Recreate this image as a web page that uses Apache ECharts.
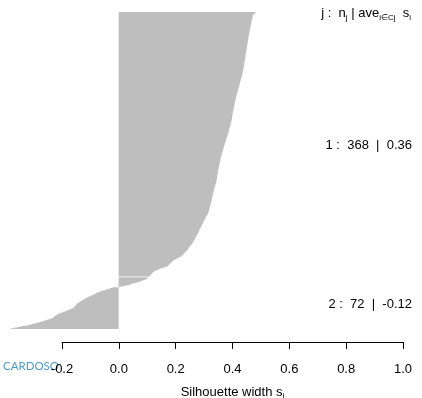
<!DOCTYPE html>
<html>
<head>
<meta charset="utf-8">
<script src="https://cdn.jsdelivr.net/npm/echarts@6/dist/echarts.min.js"></script>
<style>
  html, body { margin: 0; padding: 0; background: #fff; }
  #chart { width: 422px; height: 398px; }
</style>
</head>
<body>
<div id="chart"></div>
<script>
// silhouette widths, sorted within each cluster
const cluster1 = [
  0.483, 0.480, 0.477, 0.474,
  0.473, 0.472, 0.472, 0.471, 0.470, 0.470, 0.469, 0.469, 0.468, 0.468, 0.467, 0.467, 0.466, 0.466,
  0.465, 0.465, 0.464, 0.464, 0.463, 0.463, 0.462, 0.462, 0.461, 0.461, 0.460, 0.460, 0.459, 0.459, 0.458, 0.458, 0.457, 0.457,
  0.456, 0.456, 0.456, 0.455, 0.455, 0.454, 0.454, 0.454, 0.453, 0.453, 0.452, 0.452, 0.452, 0.451, 0.451, 0.450, 0.450, 0.450, 0.449, 0.449, 0.448, 0.448, 0.448, 0.447,
  0.447, 0.447, 0.446, 0.446, 0.445, 0.445, 0.445, 0.444, 0.444, 0.443, 0.443, 0.442, 0.442, 0.442, 0.441, 0.441, 0.440, 0.440, 0.439, 0.439, 0.438, 0.438, 0.437,
  0.437, 0.436, 0.436, 0.435, 0.434, 0.434, 0.433, 0.432, 0.432, 0.431, 0.430, 0.430, 0.429, 0.428, 0.428, 0.427, 0.426, 0.426, 0.425, 0.424, 0.424, 0.423, 0.422, 0.421, 0.421,
  0.420, 0.419, 0.419, 0.418, 0.417, 0.417, 0.416, 0.415, 0.415, 0.414, 0.413, 0.413, 0.412, 0.411, 0.411, 0.410, 0.410, 0.409, 0.409, 0.408, 0.408, 0.407, 0.407, 0.406,
  0.406, 0.405, 0.405, 0.404, 0.404, 0.403, 0.403, 0.402, 0.402, 0.401, 0.401, 0.400, 0.400, 0.400, 0.399, 0.399, 0.398, 0.398,
  0.398, 0.397, 0.396, 0.396, 0.395, 0.394, 0.394, 0.393, 0.392, 0.392, 0.391, 0.390, 0.390, 0.389, 0.388, 0.388, 0.387, 0.386,
  0.386, 0.385, 0.384, 0.383, 0.382, 0.382, 0.381, 0.380, 0.379, 0.378, 0.378, 0.377, 0.376, 0.375, 0.374, 0.374, 0.373, 0.372, 0.371, 0.370,
  0.370, 0.369, 0.368, 0.368, 0.367, 0.366, 0.365, 0.365, 0.364, 0.363, 0.362, 0.362, 0.361, 0.360,
  0.360, 0.359, 0.359, 0.358, 0.358, 0.357, 0.357, 0.356, 0.355, 0.355, 0.354, 0.354, 0.353, 0.353, 0.352, 0.352, 0.351, 0.351,
  0.350, 0.350, 0.349, 0.349, 0.349, 0.348, 0.348, 0.347, 0.347, 0.347, 0.346, 0.346, 0.345, 0.345,
  0.345, 0.344, 0.343, 0.343, 0.342, 0.341, 0.340, 0.340, 0.339, 0.338, 0.337,
  0.336, 0.336, 0.335, 0.335, 0.334, 0.334, 0.333, 0.332, 0.332, 0.331, 0.331, 0.330, 0.330, 0.329, 0.328, 0.328, 0.327, 0.327, 0.326, 0.326,
  0.325, 0.324, 0.324, 0.323, 0.322, 0.322, 0.321, 0.320, 0.320, 0.319, 0.318, 0.317, 0.317, 0.316,
  0.315, 0.314, 0.312, 0.311, 0.310, 0.308, 0.307, 0.306, 0.305, 0.303, 0.302, 0.300, 0.299, 0.298,
  0.297, 0.296, 0.294, 0.293, 0.292, 0.290, 0.289, 0.288, 0.286, 0.285, 0.284, 0.283, 0.282, 0.281,
  0.280, 0.279, 0.277, 0.276, 0.274, 0.273, 0.271, 0.270, 0.268, 0.267, 0.266, 0.264, 0.263,
  0.262, 0.260, 0.258, 0.256, 0.254, 0.252, 0.250, 0.248, 0.246,
  0.245, 0.243, 0.241, 0.238, 0.236, 0.234, 0.231, 0.229, 0.227, 0.224,
  0.222, 0.218, 0.213, 0.208, 0.203, 0.198, 0.193,
  0.190, 0.188, 0.185, 0.183, 0.180, 0.178, 0.175,
  0.174, 0.165, 0.158, 0.150,
  0.145, 0.139, 0.133, 0.127, 0.122,
  0.120, 0.118, 0.116, 0.114, 0.112, 0.110
];
const cluster2 = [
  0.103, 0.101, 0.098, 0.092, 0.086, 0.078, 0.072, 0.063, 0.052, 0.045, 0.038, 0.028, 0.017, 0.006,
  -0.022, -0.030, -0.038, -0.047,
  -0.056, -0.062, -0.068, -0.074, -0.080,
  -0.085, -0.090, -0.096, -0.102, -0.107,
  -0.111, -0.116, -0.121, -0.126,
  -0.130, -0.134, -0.138, -0.142, -0.145,
  -0.148, -0.150, -0.152, -0.155, -0.157,
  -0.159, -0.164, -0.170, -0.176, -0.182,
  -0.188, -0.196, -0.203, -0.210,
  -0.215, -0.218, -0.222, -0.226, -0.229,
  -0.232, -0.239, -0.246, -0.253, -0.260,
  -0.267, -0.277, -0.287, -0.297,
  -0.307, -0.318, -0.330, -0.342,
  -0.355, -0.367, -0.380
];
const clusterLabels = ['1 :  368  |  0.36', '2 :  72  |  -0.12'];
const xTicks = [-0.2, 0.0, 0.2, 0.4, 0.6, 0.8, 1.0];

// one empty slot between the clusters, like barplot's space
const values = [...cluster1, null, ...cluster2];
const obs = values.map((_, i) => i + 1);

const font = 'Liberation Sans, Arial, sans-serif';
const chart = echarts.init(document.getElementById('chart'));

chart.setOption({
  animation: false,
  backgroundColor: '#fff',
  grid: [
    { left: 5, right: 5, top: 12, bottom: 69, outerBoundsMode: 'none' },
    { left: 62, right: 19, top: 300, bottom: 56, outerBoundsMode: 'none' }
  ],
  xAxis: [
    { gridIndex: 0, type: 'value', min: -0.4, max: 1.05, show: false },
    {
      gridIndex: 1,
      type: 'value',
      min: xTicks[0],
      max: xTicks[xTicks.length - 1],
      interval: 0.2,
      axisLine: { show: true, lineStyle: { color: '#000', width: 1 } },
      axisTick: { show: true, length: 7, lineStyle: { color: '#000' } },
      splitLine: { show: false },
      axisLabel: {
        margin: 21,
        color: '#000',
        fontSize: 13,
        fontFamily: font,
        formatter: v => v.toFixed(1)
      },
      name: '{a|Silhouette width s}{b|i}',
      nameLocation: 'middle',
      nameGap: 42,
      nameTextStyle: {
        rich: {
          a: { fontSize: 13, fontFamily: font, color: '#000', lineHeight: 16, verticalAlign: 'middle' },
          b: { fontSize: 8, fontFamily: font, color: '#000', lineHeight: 16, verticalAlign: 'bottom' }
        }
      }
    }
  ],
  yAxis: [
    { gridIndex: 0, type: 'category', data: obs, inverse: true, show: false },
    { gridIndex: 1, type: 'value', min: 0, max: 1, show: false }
  ],
  series: [
    {
      type: 'bar',
      xAxisIndex: 0,
      yAxisIndex: 0,
      data: values,
      barWidth: '100%',
      barCategoryGap: '0%',
      large: true,
      largeThreshold: 50,
      itemStyle: { color: '#bebebe' },
      silent: true
    }
  ],
  graphic: [
    {
      type: 'text',
      right: 11,
      top: 7,
      style: {
        text: '{a|j :  n}{b|j}{a| | ave}{b|i∈Cj}{a|  s}{b|i}',
        rich: {
          a: { fontSize: 13, fontFamily: font, fill: '#000', lineHeight: 16, verticalAlign: 'middle' },
          b: { fontSize: 8, fontFamily: font, fill: '#000', lineHeight: 16, verticalAlign: 'bottom' }
        }
      }
    },
    {
      type: 'text',
      right: 10,
      top: 139,
      style: { text: clusterLabels[0], fontSize: 13, fontFamily: font, fill: '#000' }
    },
    {
      type: 'text',
      right: 10,
      top: 298,
      style: { text: clusterLabels[1], fontSize: 13, fontFamily: font, fill: '#000' }
    },
    {
      type: 'text',
      left: 3,
      top: 360,
      style: { text: 'CARDOSO', fontSize: 11.5, fontFamily: 'Lato, sans-serif', fill: '#4a9bc9' }
    }
  ]
});
</script>
</body>
</html>
